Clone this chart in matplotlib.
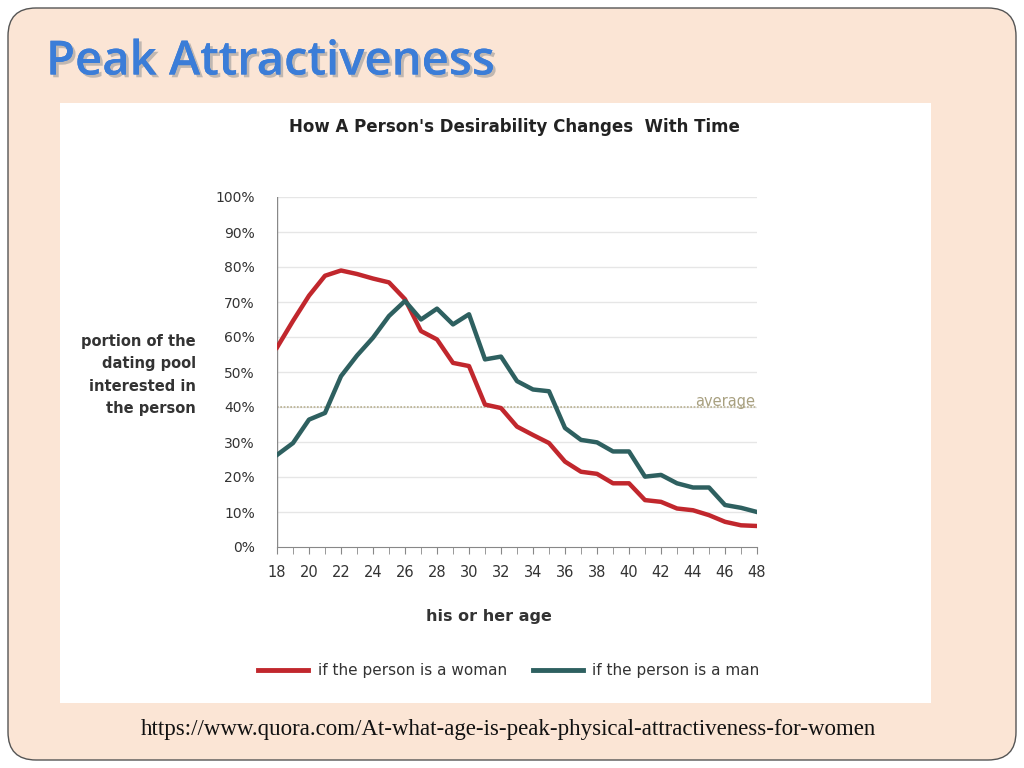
import matplotlib.pyplot as plt
from matplotlib.patches import FancyBboxPatch, Rectangle
import matplotlib.patheffects as pe

ages = list(range(18, 49))
woman = [57, 64.6, 71.8, 77.5, 79, 78, 76.7, 75.6, 70.8, 61.7, 59.3, 52.6, 51.7, 40.7, 39.7, 34.4,
         32, 29.7, 24.4, 21.5, 20.9, 18.2, 18.2, 13.4, 12.9, 11, 10.5, 9.1, 7.2, 6.2, 6]
man = [26.3, 29.7, 36.4, 38.3, 48.8, 54.7, 59.8, 66, 70.3, 65, 68.1, 63.6, 66.5, 53.6, 54.4, 47.4,
       45, 44.5, 34, 30.6, 29.9, 27.3, 27.3, 20.1, 20.6, 18.2, 17, 17, 12, 11.2, 10]
yticks = list(range(0, 101, 10))
xticks = list(range(18, 49, 2))

W, H = 1024, 768
fig = plt.figure(figsize=(W/100, H/100), dpi=100)
fig.patch.set_facecolor('white')
bg = fig.add_axes([0, 0, 1, 1]); bg.set_xlim(0, W); bg.set_ylim(H, 0); bg.axis('off')
bg.add_patch(FancyBboxPatch((8, 8), W-16, H-16, boxstyle="round,pad=0,rounding_size=28",
                            facecolor='#fbe5d5', edgecolor='#555555', lw=1))
bg.add_patch(Rectangle((60, 103), 871, 600, facecolor='white', edgecolor='none'))
bg.text(46, 62, "Peak Attractiveness", fontsize=34, color='#3b7dd8', va='center', ha='left',
        fontfamily='Open Sans', fontweight='semibold',
        path_effects=[pe.withSimplePatchShadow(offset=(2, -2), shadow_rgbFace='#999999', alpha=0.6), pe.Normal()])
bg.text(508, 730, "https://www.quora.com/At-what-age-is-peak-physical-attractiveness-for-women",
        fontsize=16.5, fontfamily='Liberation Serif', ha='center', va='center', color='#111111')
bg.text(514, 127, "How A Person's Desirability Changes  With Time", fontsize=12, fontweight='bold',
        ha='center', va='center', color='#222222')
bg.text(196, 375, "portion of the\ndating pool\ninterested in\nthe person", fontsize=10.5, fontweight='bold',
        ha='right', va='center', color='#333333', linespacing=1.6)
bg.text(489, 617, "his or her age", fontsize=11.5, fontweight='bold', ha='center', va='center', color='#333333')
# legend
bg.plot([258, 308], [670, 670], color='#c1272d', lw=3.5)
bg.text(318, 670, "if the person is a woman", fontsize=11, va='center', color='#333333')
bg.plot([533, 583], [670, 670], color='#2e6060', lw=3.5)
bg.text(592, 670, "if the person is a man", fontsize=11, va='center', color='#333333')

ax = fig.add_axes([277/W, 1-547/H, 480/W, 350/H])
ax.set_xlim(18, 48); ax.set_ylim(0, 100)
for y in yticks[1:]:
    ax.axhline(y, color='#e6e6e6', lw=1, zorder=0)
ax.axhline(40, color='#b8b090', lw=1.2, ls=(0, (1, 1)), zorder=1)
ax.text(47.9, 41.5, "average", color='#a8a080', fontsize=10.5, ha='right', va='center')
ax.plot(ages, woman, color='#c1272d', lw=3.2, solid_joinstyle='round', zorder=3)
ax.plot(ages, man, color='#2e6060', lw=3.2, solid_joinstyle='round', zorder=3)
ax.set_yticks(yticks); ax.set_yticklabels([f"{v}%" for v in yticks])
ax.set_xticks(xticks); ax.set_xticks(ages, minor=True)
for s in ['top', 'right', 'left']:
    ax.spines[s].set_visible(False)
ax.spines['bottom'].set_color('#888888')
ax.axvline(18, color='#888888', lw=1)
ax.tick_params(axis='y', length=0, labelsize=10, colors='#333333', pad=16)
ax.tick_params(axis='x', which='both', direction='out', length=5, color='#888888', labelsize=10.5,
               labelcolor='#333333', pad=8)
ax.set_facecolor('none')
fig.savefig('out.png', dpi=100)
